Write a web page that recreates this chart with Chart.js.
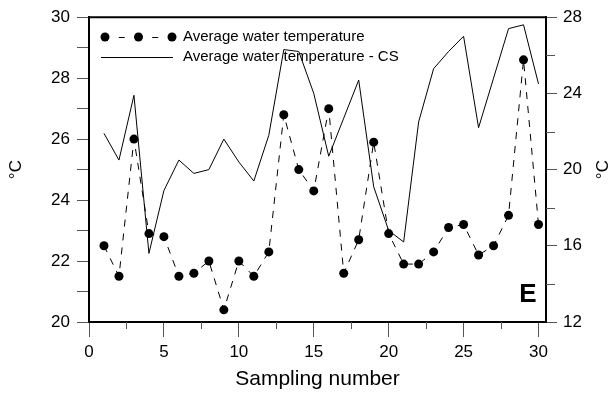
<!DOCTYPE html>
<html>
<head>
<meta charset="utf-8">
<script src="https://cdn.jsdelivr.net/npm/chart.js@4.4.1/dist/chart.umd.min.js"></script>
<style>
  html, body { margin: 0; padding: 0; background: #fff; }
  #wrap { width: 616px; height: 397px; }
</style>
</head>
<body>
<div id="wrap"><canvas id="c" width="616" height="397"></canvas></div>
<script>
// Sampling numbers 1..30
const sampling = [1,2,3,4,5,6,7,8,9,10,11,12,13,14,15,16,17,18,19,20,21,22,23,24,25,26,27,28,29,30];
// Average water temperature (left axis, °C)
const waterTemp = [22.5,21.5,26.0,22.9,22.8,21.5,21.6,22.0,20.4,22.0,21.5,22.3,26.8,25.0,24.3,27.0,21.6,22.7,25.9,22.9,21.9,21.9,22.3,23.1,23.2,22.2,22.5,23.5,28.6,23.2];
// Average water temperature - CS (right axis, °C)
const waterTempCS = [21.9,20.5,23.9,15.6,18.9,20.5,19.8,20.0,21.6,20.4,19.4,21.8,26.3,26.2,24.0,20.7,22.7,24.7,19.1,16.8,16.2,22.5,25.3,26.2,27.0,22.2,24.8,27.4,27.6,24.5];

const seriesLabels = ['Average water temperature', 'Average water temperature - CS'];
const xTickValues = [0,2.5,5,7.5,10,12.5,15,17.5,20,22.5,25,27.5,30];
const xLabelValues = [0,5,10,15,20,25,30];
const leftTickValues = [20,21,22,23,24,25,26,27,28,29,30];
const leftLabelValues = [20,22,24,26,28,30];
const rightTickValues = [12,14,16,18,20,22,24,26,28];
const rightLabelValues = [12,16,20,24,28];
const panelLetter = 'E';

const FONT = '"Liberation Sans", Arial, Helvetica, sans-serif';
Chart.defaults.font.family = FONT;
Chart.defaults.color = '#000';

const TICK_COLOR = '#555';

// frame, minor ticks, legend, right-hand title and panel letter
const decorations = {
  id: 'decorations',
  afterDraw(chart) {
    const { ctx, chartArea: a, scales } = chart;
    ctx.save();
    // top border of the plot frame
    ctx.strokeStyle = '#000';
    ctx.lineWidth = 2;
    ctx.beginPath();
    ctx.moveTo(a.left - 1, a.top);
    ctx.lineTo(a.right + 1, a.top);
    ctx.stroke();

    // minor ticks
    ctx.strokeStyle = TICK_COLOR;
    ctx.lineWidth = 1;
    xTickValues.filter(v => !xLabelValues.includes(v)).forEach(v => {
      const px = Math.round(scales.x.getPixelForValue(v)) + 0.5;
      ctx.beginPath(); ctx.moveTo(px, a.bottom); ctx.lineTo(px, a.bottom + 7); ctx.stroke();
    });
    rightTickValues.filter(v => !rightLabelValues.includes(v)).forEach(v => {
      const py = Math.round(scales.yR.getPixelForValue(v)) + 0.5;
      ctx.beginPath(); ctx.moveTo(a.right, py); ctx.lineTo(a.right + 9, py); ctx.stroke();
    });

    // legend
    const lx0 = 105, lx1 = 172, row1 = 37, row2 = 57;
    ctx.fillStyle = '#000';
    ctx.strokeStyle = '#000';
    ctx.lineWidth = 1;
    const dots = [lx0, (lx0 + lx1) / 2, lx1];
    for (let i = 0; i < dots.length - 1; i++) {
      const mid = (dots[i] + dots[i + 1]) / 2;
      ctx.beginPath(); ctx.moveTo(mid - 3, row1 + 0.5); ctx.lineTo(mid + 3, row1 + 0.5); ctx.stroke();
    }
    dots.forEach(x => { ctx.beginPath(); ctx.arc(x, row1, 4.5, 0, Math.PI * 2); ctx.fill(); });
    ctx.beginPath(); ctx.moveTo(101, row2 + 0.5); ctx.lineTo(173, row2 + 0.5); ctx.stroke();
    ctx.font = '15px ' + FONT;
    ctx.textBaseline = 'middle';
    ctx.textAlign = 'left';
    ctx.fillText(seriesLabels[0], 183, row1);
    ctx.fillText(seriesLabels[1], 183, row2);

    // right axis title, reading bottom to top like the left one
    ctx.save();
    ctx.translate(603, (a.top + a.bottom) / 2);
    ctx.rotate(-Math.PI / 2);
    ctx.font = '17px ' + FONT;
    ctx.textAlign = 'center';
    ctx.textBaseline = 'middle';
    ctx.fillText('°C', 0, 0);
    ctx.restore();

    // panel letter
    ctx.font = 'bold 26px ' + FONT;
    ctx.textAlign = 'center';
    ctx.textBaseline = 'middle';
    ctx.fillText(panelLetter, 528, 295);
    ctx.restore();
  }
};

const tickFont = { size: 17, family: FONT };

new Chart(document.getElementById('c'), {
  type: 'line',
  data: {
    datasets: [
      {
        label: seriesLabels[0],
        data: sampling.map((x, i) => ({ x, y: waterTemp[i] })),
        yAxisID: 'yL',
        borderColor: '#000',
        borderWidth: 1,
        borderDash: [7, 7],
        pointRadius: 4.5,
        pointBackgroundColor: '#000',
        pointBorderWidth: 0,
        tension: 0
      },
      {
        label: seriesLabels[1],
        data: sampling.map((x, i) => ({ x, y: waterTempCS[i] })),
        yAxisID: 'yR',
        borderColor: '#000',
        borderWidth: 1,
        pointRadius: 0,
        tension: 0
      }
    ]
  },
  options: {
    responsive: false,
    animation: false,
    devicePixelRatio: 1,
    layout: { padding: { top: 16, left: 0, right: 0, bottom: 0 } },
    plugins: { legend: { display: false }, tooltip: { enabled: false } },
    scales: {
      x: {
        type: 'linear',
        min: 0,
        max: 30.5,
        afterBuildTicks: s => { s.ticks = xTickValues.map(v => ({ value: v })); },
        afterFit: s => { s.height = 75; },
        grid: {
          display: true,
          drawOnChartArea: false,
          tickLength: 15,
          tickColor: c => (c.tick && xLabelValues.includes(c.tick.value)) ? TICK_COLOR : 'rgba(0,0,0,0)'
        },
        border: { display: true, color: '#000', width: 2 },
        ticks: {
          padding: 5,
          font: tickFont,
          color: '#000',
          maxRotation: 0,
          autoSkip: false,
          callback: v => xLabelValues.includes(v) ? String(v) : ''
        },
        title: {
          display: true,
          text: 'Sampling number',
          font: { size: 21, family: FONT },
          color: '#000',
          padding: { top: 0, bottom: 5 }
        }
      },
      yL: {
        position: 'left',
        min: 20,
        max: 30,
        afterBuildTicks: s => { s.ticks = leftTickValues.map(v => ({ value: v })); },
        afterFit: s => { s.width = 89; },
        grid: { display: true, drawOnChartArea: false, tickLength: 12, tickColor: TICK_COLOR },
        border: { display: true, color: '#000', width: 2 },
        ticks: {
          padding: 7,
          font: tickFont,
          color: '#000',
          autoSkip: false,
          callback: v => leftLabelValues.includes(v) ? String(v) : ''
        },
        title: {
          display: true,
          text: '°C',
          font: { size: 17, family: FONT },
          color: '#000',
          padding: { top: 6, bottom: 0 }
        }
      },
      yR: {
        position: 'right',
        min: 12,
        max: 28,
        afterBuildTicks: s => { s.ticks = rightTickValues.map(v => ({ value: v })); },
        afterFit: s => { s.width = 70; },
        grid: {
          display: true,
          drawOnChartArea: false,
          tickLength: 11,
          tickColor: c => (c.tick && rightLabelValues.includes(c.tick.value)) ? TICK_COLOR : 'rgba(0,0,0,0)'
        },
        border: { display: true, color: '#000', width: 2 },
        ticks: {
          padding: 6,
          font: tickFont,
          color: '#000',
          autoSkip: false,
          callback: v => rightLabelValues.includes(v) ? String(v) : ''
        }
      }
    }
  },
  plugins: [decorations]
});
</script>
</body>
</html>
